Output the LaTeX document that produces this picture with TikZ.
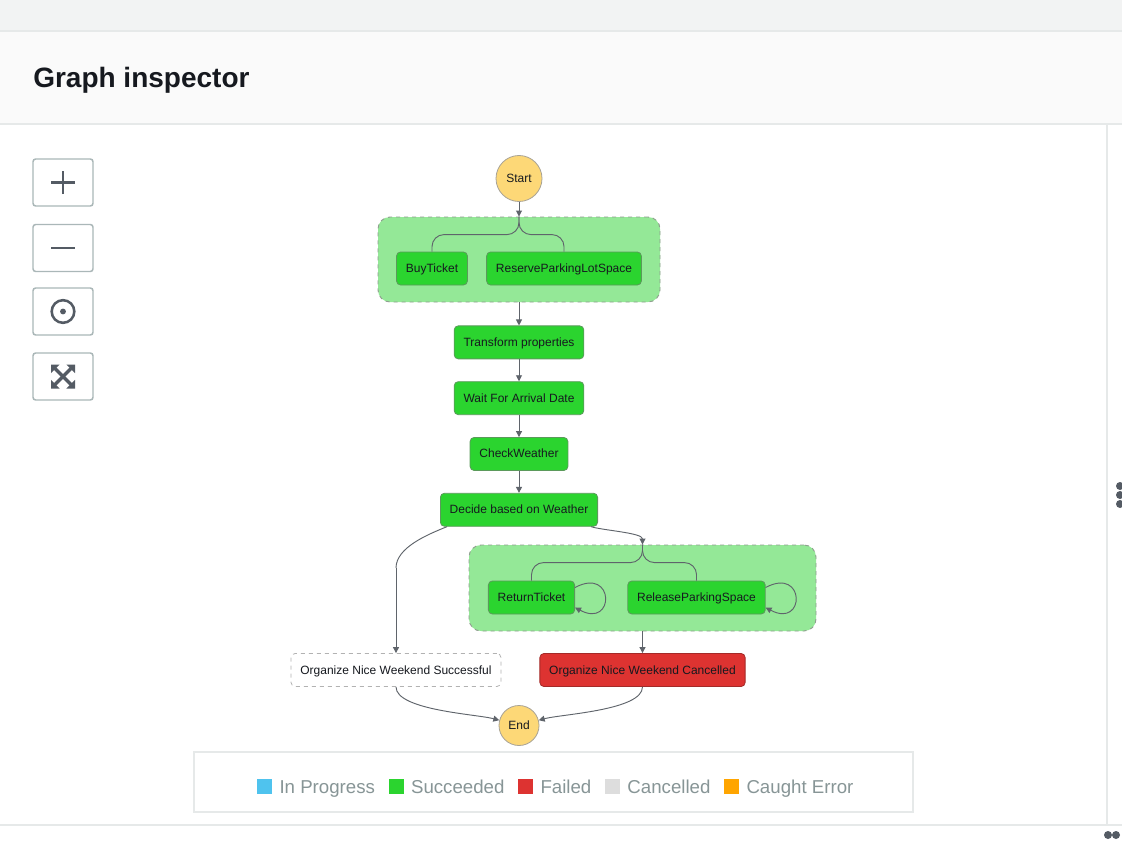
\documentclass[tikz,border=0pt]{standalone}
\usepackage{fontspec}
\setmainfont{Liberation Sans}
\usetikzlibrary{positioning, arrows.meta, calc}
\definecolor{cTopBar}{HTML}{F2F3F3}
\definecolor{cHead}{HTML}{FAFAFA}
\definecolor{cRule}{HTML}{E6E9E9}
\definecolor{cBtnB}{HTML}{AAB7B8}
\definecolor{cIcon}{HTML}{545B64}
\definecolor{cInk}{HTML}{16191F}
\definecolor{cTask}{HTML}{2BD42F}
\definecolor{cTaskB}{HTML}{5B9A5B}
\definecolor{cGroup}{HTML}{94E897}
\definecolor{cGroupB}{HTML}{8E9E8E}
\definecolor{cTerm}{HTML}{FDD877}
\definecolor{cTermB}{HTML}{A8A396}
\definecolor{cFail}{HTML}{DD3331}
\definecolor{cFailB}{HTML}{A42A28}
\definecolor{cEdge}{HTML}{5F646B}
\definecolor{cLegText}{HTML}{879596}
\definecolor{cProg}{HTML}{4FC3EE}
\definecolor{cCanc}{HTML}{DDDDDD}
\definecolor{cCaught}{HTML}{FFA500}
\tikzset{
  taskbox/.style   ={draw=cTaskB, fill=cTask, rounded corners=3pt,
                     line width=0.6pt, text=cInk,
                     font=\fontsize{9}{10}\selectfont,
                     text height=7.5pt, text depth=1.5pt,
                     minimum height=24.75pt, inner xsep=7pt},
  failbox/.style   ={taskbox, fill=cFail, draw=cFailB},
  idlebox/.style   ={taskbox, fill=white, draw=black!30, dashed},
  terminal/.style  ={circle, draw=cTermB, fill=cTerm, line width=0.6pt,
                     text=cInk, font=\fontsize{9}{10}\selectfont,
                     inner sep=0pt},
  parallel/.style  ={draw=cGroupB, fill=cGroup, dashed, rounded corners=9pt,
                     line width=0.7pt},
  flow/.style      ={-{Triangle[length=4.5pt, width=4.5pt]},
                     line width=0.7pt, draw=cEdge},
  link/.style      ={line width=0.7pt, draw=cEdge},
  ctrlbtn/.style   ={draw=cBtnB, fill=white, line width=1.1pt,
                     rounded corners=2pt,
                     minimum width=45pt, minimum height=35.25pt},
  icon/.style      ={draw=cIcon, line width=1.6pt},
  legendbox/.style ={draw=cRule, fill=white, line width=1.5pt,
                     minimum width=539.25pt, minimum height=45pt},
  legsq/.style     ={minimum size=11.25pt, inner sep=0pt},
  legtext/.style   ={font=\fontsize{14}{16}\selectfont, text=cLegText,
                     inner sep=0pt, text height=11.25pt, text depth=0pt},
}
\begin{document}
\begin{tikzpicture}[x=0.75pt, y=-0.75pt, node distance=16.5pt]

  % page frame
  \useasboundingbox (0,0) rectangle (1122,842);
  \fill[white] (0,0) rectangle (1122,842);
  \fill[cTopBar] (0,0) rectangle (1122,31);
  \fill[cHead] (0,31) rectangle (1122,124);
  \draw[cRule, line width=1.5pt] (0,31) -- (1122,31);
  \draw[cRule, line width=1.5pt] (0,124.5) -- (1122,124.5);
  \draw[cRule, line width=1.5pt] (1107,125) -- (1107,825);
  \draw[cRule, line width=1.5pt] (0,825) -- (1122,825);

  \node[anchor=base west, text=cInk, inner sep=0pt,
        font=\fontsize{21}{24}\selectfont\bfseries] (title) at (33,88)
        {Graph inspector};

  % zoom controls
  \node[ctrlbtn] (zoomin)   at (63,182.5) {};
  \node[ctrlbtn] (zoomout)  at (63,248) {};
  \node[ctrlbtn] (recenter) at (63,311.5) {};
  \node[ctrlbtn] (fitview)  at (63,376.5) {};

  \draw[icon] ([xshift=-8.75pt]zoomin.center) -- ([xshift=8.75pt]zoomin.center);
  \draw[icon] ([yshift=-8.75pt]zoomin.center) -- ([yshift=8.75pt]zoomin.center);
  \draw[icon] ([xshift=-8.75pt]zoomout.center) -- ([xshift=8.75pt]zoomout.center);
  \draw[icon, line width=1.9pt] (recenter.center) circle (8.5pt);
  \fill[cIcon] (recenter.center) circle (2.2pt);
  \foreach \sx/\sy in {1/1, 1/-1, -1/1, -1/-1} {
    \fill[cIcon] ($(fitview.center)+(\sx*9pt,\sy*9pt)$)
      -- ++(-\sx*6.5pt,0pt) -- ++(\sx*6.5pt,-\sy*6.5pt) -- cycle;
    \draw[icon, line width=2.6pt] (fitview.center) -- ++(\sx*6pt,\sy*6pt);
  }

  % side handles
  \foreach \yy in {486,495,504}
    \fill[cIcon] (1120,\yy) circle (3pt);
  \fill[cIcon] (1108,835) circle (3pt);
  \fill[cIcon] (1116,835) circle (3pt);

  % ============================================================
  % STATE MACHINE
  % ============================================================
  \node[terminal, minimum size=34.5pt] (start) at (519,178.5) {Start};

  \node[parallel, minimum width=211.5pt, minimum height=63.75pt] (book) at (519,259.5) {};
  \node[taskbox] (buy)     at (432,268.5) {BuyTicket};
  \node[taskbox] (reserve) at (564,268.5) {ReserveParkingLotSpace};

  \node[taskbox, below=17.25pt of book] (transform) {Transform properties};
  \node[taskbox, below=of transform] (wait)   {Wait For Arrival Date};
  \node[taskbox, below=of wait]      (check)  {CheckWeather};
  \node[taskbox, below=of check]     (decide) {Decide based on Weather};

  \node[parallel, minimum width=260.25pt, minimum height=64.5pt] (undo) at (642.5,588) {};
  \node[taskbox] (retticket) at (531.5,597.5) {ReturnTicket};
  \node[taskbox] (release)   at (696.5,597.5) {ReleaseParkingSpace};

  \node[idlebox] (success) at (396,670)   {Organize Nice Weekend Successful};
  \node[failbox] (cancel)  at (642.5,670) {Organize Nice Weekend Cancelled};

  \node[terminal, minimum size=30pt] (end) at (519,725.5) {End};

  \coordinate (bend) at (396,568);

  % ============================================================
  % TRANSITIONS
  % ============================================================
  \draw[flow] (start) -- (book.north);
  \draw[link, rounded corners=9pt] (book.north) |- ([yshift=12.75pt]buy.north) -- (buy.north);
  \draw[link, rounded corners=9pt] (book.north) |- ([yshift=12.75pt]reserve.north) -- (reserve.north);

  \draw[flow] (book) -- (transform);
  \draw[flow] (transform) -- (wait);
  \draw[flow] (wait) -- (check);
  \draw[flow] (check) -- (decide);

  \draw[flow] ([xshift=-5.25pt]decide.south east) to[out=-18, in=90, looseness=0.55] (undo.north);
  \draw[link] ([xshift=5.25pt]decide.south west) to[out=-158, in=90, looseness=0.8] (bend);
  \draw[flow] (bend) -- (success.north);

  \draw[link, rounded corners=9pt] (undo.north) |- ([yshift=13.5pt]retticket.north) -- (retticket.north);
  \draw[link, rounded corners=9pt] (undo.north) |- ([yshift=13.5pt]release.north) -- (release.north);

  % retry loops
  \draw[flow] ([yshift=7.5pt]retticket.east) .. controls +(30pt,16pt) and +(30pt,-16pt) .. ([yshift=-7.5pt]retticket.east);
  \draw[flow] ([yshift=7.5pt]release.east) .. controls +(30pt,16pt) and +(30pt,-16pt) .. ([yshift=-7.5pt]release.east);

  \draw[flow] (undo) -- (cancel);
  \draw[flow] (success.south) to[out=-90, in=165, looseness=0.55] (end);
  \draw[flow] (cancel.south) to[out=-90, in=15, looseness=0.55] (end);

  % ============================================================
  % LEGEND
  % ============================================================
  \node[legendbox] (legend) at (553.5,782) {};
  \node[legsq, fill=cProg] (sqprog) at (264.5,786) {};
  \node[legtext, right=5.25pt of sqprog] (txprog) {In Progress};
  \node[legsq, fill=cTask, right=9.75pt of txprog] (sqsucc) {};
  \node[legtext, right=5.25pt of sqsucc] (txsucc) {Succeeded};
  \node[legsq, fill=cFail, right=9.75pt of txsucc] (sqfail) {};
  \node[legtext, right=5.25pt of sqfail] (txfail) {Failed};
  \node[legsq, fill=cCanc, right=9.75pt of txfail] (sqcanc) {};
  \node[legtext, right=5.25pt of sqcanc] (txcanc) {Cancelled};
  \node[legsq, fill=cCaught, right=9.75pt of txcanc] (sqcaught) {};
  \node[legtext, right=5.25pt of sqcaught] (txcaught) {Caught Error};

\end{tikzpicture}
\end{document}
